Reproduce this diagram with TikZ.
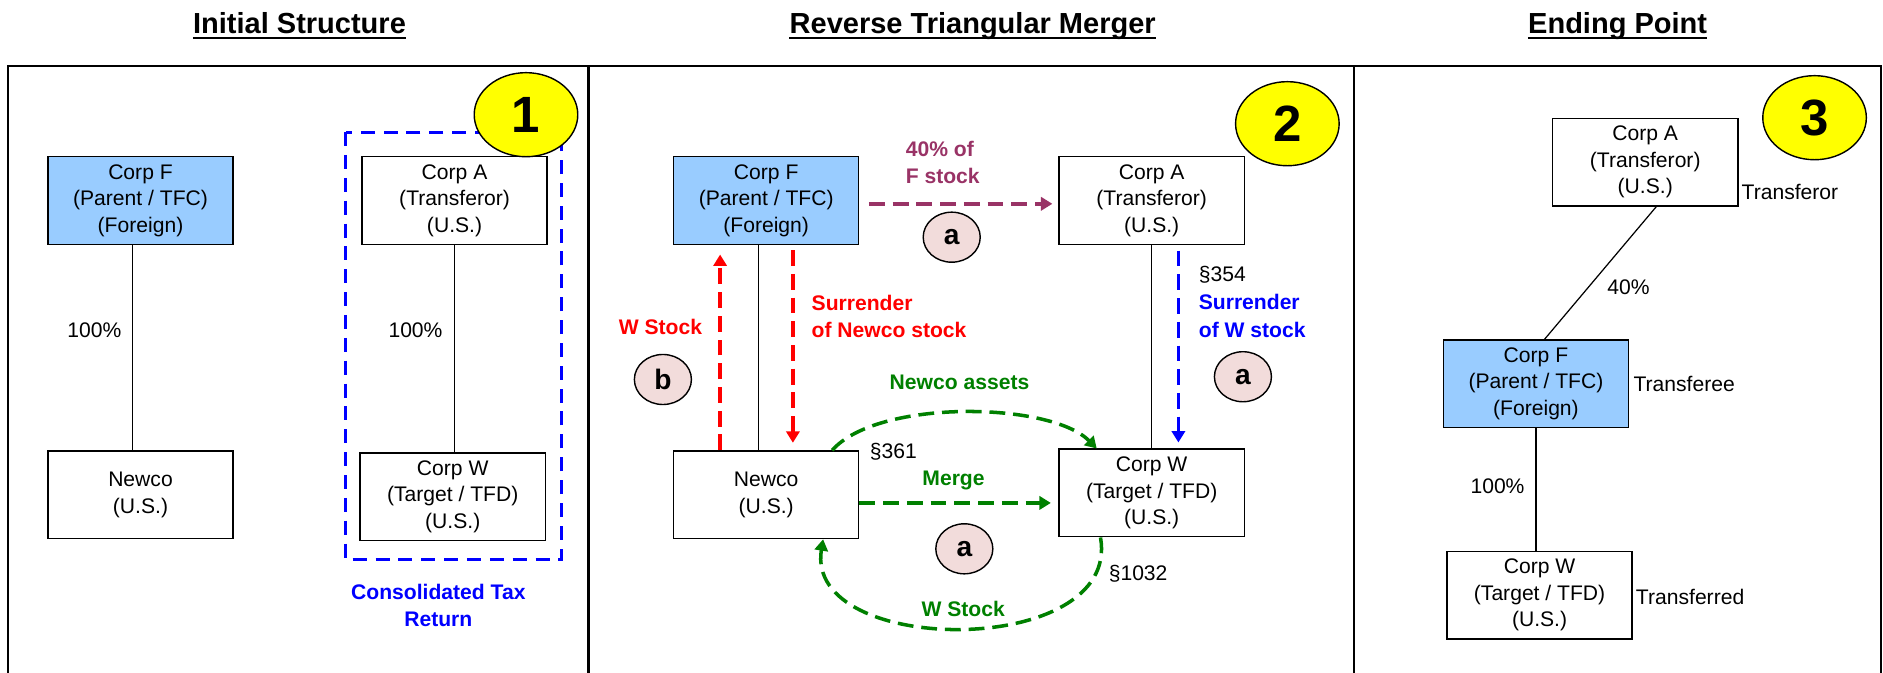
\documentclass[tikz,border=0pt]{standalone}
\usepackage{fontspec}
\setmainfont{Liberation Sans}
\usepackage{xcolor}
\usepackage{tikz}
\usetikzlibrary{arrows.meta,shapes.geometric}
\definecolor{tfcblue}{HTML}{99CCFF}
\definecolor{stepyel}{HTML}{FFFF00}
\definecolor{tagpink}{HTML}{F2DCDB}
\definecolor{fpurple}{HTML}{993366}
\definecolor{wred}{HTML}{FF0000}
\definecolor{wblue}{HTML}{0000FF}
\definecolor{mgreen}{HTML}{008000}
\tikzset{
  corp/.style={draw=black, line width=0.8pt, fill=white, minimum width=3.7cm, minimum height=1.75cm,
    inner sep=0pt, align=center, font=\fontsize{12}{15}\selectfont},
  corpf/.style={corp, fill=tfcblue},
  own/.style={draw=black, line width=0.7pt},
  frame/.style={draw=black, line width=1.2pt},
  pct/.style={inner sep=0pt, font=\fontsize{12}{15}\selectfont},
  note/.style={inner sep=0pt, align=left, font=\bfseries\fontsize{12}{15.5}\selectfont},
  flow/.style={dash pattern=on 9pt off 4.5pt, line width=2pt, -{Triangle[length=6.5pt,width=7.5pt]}},
  group/.style={draw=wblue, dash pattern=on 8pt off 5pt, line width=1.6pt},
  tag/.style={ellipse, draw=black, line width=0.8pt, fill=tagpink, minimum width=1.14cm, minimum height=1cm,
    inner sep=0pt, font=\bfseries\fontsize{16}{16}\selectfont},
  stepnum/.style={ellipse, draw=black, line width=0.8pt, fill=stepyel, minimum width=2.07cm, minimum height=1.68cm,
    inner sep=0pt, font=\bfseries\fontsize{29}{29}\selectfont},
  heading/.style={inner sep=0pt, anchor=base, font=\bfseries\fontsize{16.5}{18}\selectfont},
}
\begin{document}
\begin{tikzpicture}[x=0.024cm, y=-0.024cm]
  \useasboundingbox (0,0) rectangle (1568,560);
  % frame and headings
  \draw[frame] (7,562) -- (7,55) -- (1566,55) -- (1566,562);
  \draw[frame] (490,55) -- (490,562);
  \draw[frame] (1127.5,55) -- (1127.5,562);
  \node[heading] (T1) at (249.4,27.8) {Initial Structure};
  \node[heading] (T2) at (810,27.8) {Reverse Triangular Merger};
  \node[heading] (T3) at (1347,27.8) {Ending Point};
  \foreach \t in {T1,T2,T3}
    \draw[line width=1.5pt] ([yshift=-2.6pt]\t.base west) -- ([yshift=-2.6pt]\t.base east);

  % initial structure
  \draw[group] (288,110) rectangle (467.5,466);
  \node[corpf] (F1) at (117,167) {Corp F\\(Parent / TFC)\\(Foreign)};
  \node[corp] (N1) at (117,412) {Newco\\(U.S.)};
  \node[corp] (A1) at (378.5,167) {Corp A\\(Transferor)\\(U.S.)};
  \node[corp] (W1) at (377,413.5) {Corp W\\(Target / TFD)\\(U.S.)};
  \draw[own] (F1.-100) -- (N1.100);
  \draw[own] (A1.south) -- (A1.south |- W1.north);
  \node[pct] (p1) at (78.6,275) {100\%};
  \node[pct] (p2) at (346,275) {100\%};
  \node[stepnum] (s1) at (438,95.5) {1};
  \node[note, align=center, text=wblue] (ctr) at (365,504) {Consolidated Tax\\Return};

  % reverse triangular merger
  \node[corpf] (F2) at (638,167) {Corp F\\(Parent / TFC)\\(Foreign)};
  \node[corp] (A2) at (959,167) {Corp A\\(Transferor)\\(U.S.)};
  \node[corp] (N2) at (638,412) {Newco\\(U.S.)};
  \node[corp] (W2) at (959,410.5) {Corp W\\(Target / TFD)\\(U.S.)};
  \node[stepnum] (s2) at (1072,103) {2};
  \draw[own] (F2.-100) -- (N2.100);
  \draw[own] (A2.south) -- (W2.north);
  \draw[flow, fpurple, shorten <=0.19cm, shorten >=0.12cm] (F2.-2) -- (F2.-2 -| A2.west);
  \draw[flow, wred, shorten >=0.19cm] (N2.136) -- (F2.-136);
  \draw[flow, wred, shorten <=0.1cm, shorten >=0.15cm] (F2.-59) -- (N2.59);
  \draw[flow, wblue, shorten <=0.11cm, shorten >=0.12cm] (A2.-59) -- (W2.59);
  \draw[flow, mgreen, shorten >=0.15cm] (N2.-5) -- (N2.-5 -| W2.west);
  \draw[flow, mgreen] (N2.34) .. controls +(38,-43) and +(-38.5,-39) .. (W2.141);
  \draw[flow, mgreen] (W2.-139) .. controls +(18,101) and +(-16,98.5) .. (N2.-38);
  \node[note, text=fpurple, anchor=west] (fs) at (754,135.5) {40\% of\\F stock};
  \node[tag] (ta1) at (792.5,197.5) {a};
  \node[note, text=wred] (ws) at (550,272) {W Stock};
  \node[tag] (tb) at (552,316) {b};
  \node[note, text=wred, anchor=west] (sn) at (675.6,263.5) {Surrender\\of Newco stock};
  \node[pct, anchor=west] (c354) at (998,229) {\S354};
  \node[note, text=wblue, anchor=west] (sw) at (998,263) {Surrender\\of W stock};
  \node[tag] (ta2) at (1035,313.7) {a};
  \node[note, text=mgreen] (na) at (799,318) {Newco assets};
  \node[pct, anchor=west] (c361) at (724,376) {\S361};
  \node[note, text=mgreen] (mg) at (794,400) {Merge};
  \node[tag] (ta3) at (803,457) {a};
  \node[note, text=mgreen] (wr) at (802,507) {W Stock};
  \node[pct, anchor=west] (c1032) at (923,478) {\S1032};

  % ending point
  \node[corp] (A3) at (1370,135) {Corp A\\(Transferor)\\(U.S.)};
  \node[corpf] (F3) at (1279,319.5) {Corp F\\(Parent / TFC)\\(Foreign)};
  \node[corp] (W3) at (1282,495.5) {Corp W\\(Target / TFD)\\(U.S.)};
  \node[stepnum] (s3) at (1511,98) {3};
  \draw[own] (A3.-76) -- (F3.79);
  \draw[own] (F3.south) -- (F3.south |- W3.north);
  \node[pct] (p3) at (1356,239) {40\%};
  \node[pct] (p4) at (1247,405) {100\%};
  \node[pct, anchor=west] (r1) at (1450,160) {Transferor};
  \node[pct, anchor=west] (r2) at (1360,320) {Transferee};
  \node[pct, anchor=west] (r3) at (1362,497) {Transferred};
\end{tikzpicture}
\end{document}
